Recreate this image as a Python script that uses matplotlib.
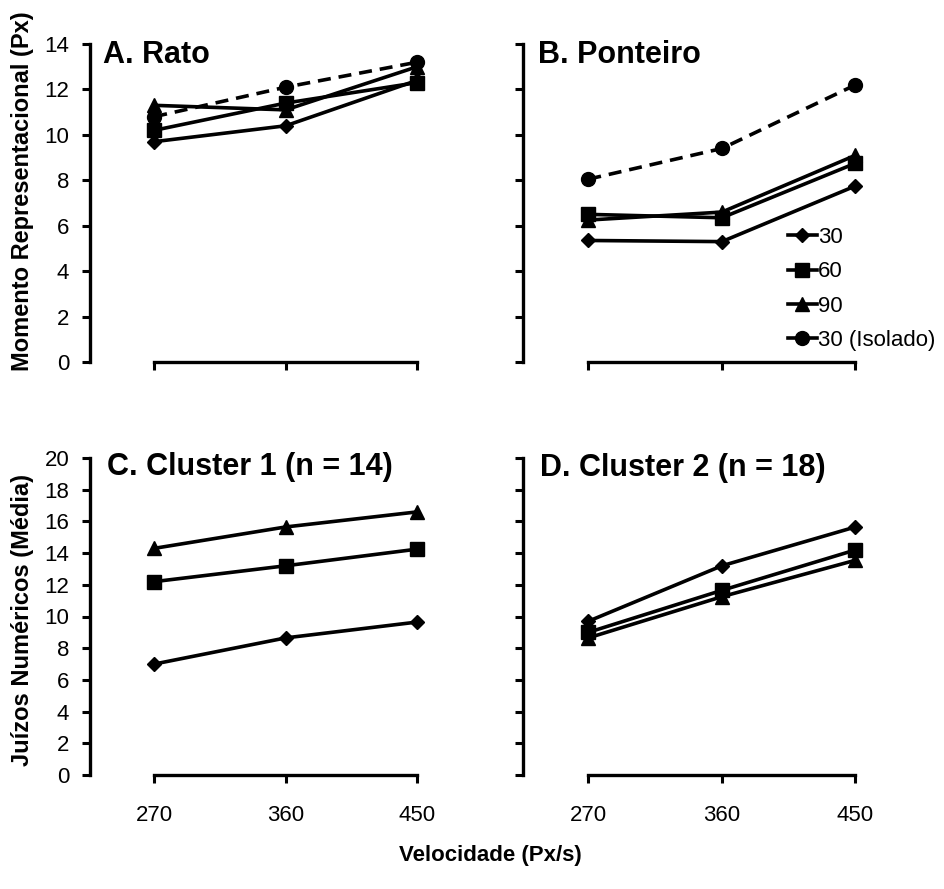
import matplotlib
matplotlib.use("Agg")
import matplotlib.pyplot as plt

plt.rcParams['font.family'] = ['Liberation Sans', 'DejaVu Sans']

# region DATA
velocidades = [270, 360, 450]
series_labels = ["30", "60", "90", "30 (Isolado)"]

rato_30 = [9.7, 10.4, 12.4]
rato_60 = [10.2, 11.4, 12.3]
rato_90 = [11.3, 11.1, 13.0]
rato_30_iso = [10.8, 12.1, 13.2]

ponteiro_30 = [5.35, 5.3, 7.75]
ponteiro_60 = [6.5, 6.35, 8.75]
ponteiro_90 = [6.25, 6.6, 9.1]
ponteiro_30_iso = [8.05, 9.4, 12.2]

cluster1_30 = [7.0, 8.65, 9.65]
cluster1_60 = [12.2, 13.2, 14.25]
cluster1_90 = [14.3, 15.65, 16.6]

cluster2_30 = [9.7, 13.2, 15.65]
cluster2_60 = [9.0, 11.65, 14.2]
cluster2_90 = [8.65, 11.25, 13.55]
# endregion

W, H = 945, 889
fig = plt.figure(figsize=(W / 100, H / 100), dpi=100)


def px_axes(x0, ytop, x1, ybot):
    return fig.add_axes([x0 / W, 1 - ybot / H, (x1 - x0) / W, (ybot - ytop) / H])


styles = [
    dict(marker='D', ms=7.5, linestyle='-'),
    dict(marker='s', ms=9.5, linestyle='-'),
    dict(marker='^', ms=10.5, linestyle='-'),
    dict(marker='o', ms=10, linestyle=(0, (3.6, 2.2))),
]


def draw_panel(ax, series, ymax, ystep, show_ylabels, show_xlabels):
    for vals, st, lab in zip(series, styles, series_labels):
        ax.plot(velocidades, vals, color='black', lw=2.6, mfc='black', mec='black',
                label=lab, **st)
    ax.set_xlim(226, 480)
    ax.set_ylim(0, ymax)
    ax.set_yticks(range(0, ymax + 1, ystep))
    ax.set_xticks(velocidades)
    for s in ['top', 'right']:
        ax.spines[s].set_visible(False)
    ax.spines['left'].set_linewidth(2.4)
    ax.spines['bottom'].set_linewidth(2.4)
    ax.spines['bottom'].set_bounds(270, 450)
    ax.tick_params(axis='y', direction='out', length=6, width=2.2, pad=9,
                   labelsize=16, labelleft=show_ylabels)
    ax.tick_params(axis='x', direction='out', length=5.5, width=2.2, pad=16,
                   labelsize=16, labelbottom=show_xlabels)
    ax.set_facecolor('none')


axA = px_axes(90, 44, 461, 362)
draw_panel(axA, [rato_30, rato_60, rato_90, rato_30_iso], 14, 2, True, False)

axB = px_axes(523, 44, 900, 362)
draw_panel(axB, [ponteiro_30, ponteiro_60, ponteiro_90, ponteiro_30_iso], 14, 2, False, False)

axC = px_axes(90, 458, 461, 775)
draw_panel(axC, [cluster1_30, cluster1_60, cluster1_90], 20, 2, True, True)

axD = px_axes(523, 458, 900, 775)
draw_panel(axD, [cluster2_30, cluster2_60, cluster2_90], 20, 2, False, True)

# panel titles
fig.text(103 / W, 1 - 63 / H, "A. Rato", fontsize=22, fontweight='bold', va='baseline')
fig.text(538 / W, 1 - 63 / H, "B. Ponteiro", fontsize=22, fontweight='bold', va='baseline')
fig.text(107 / W, 1 - 475 / H, "C. Cluster 1 (n = 14)", fontsize=22, fontweight='bold', va='baseline')
fig.text(540 / W, 1 - 476 / H, "D. Cluster 2 (n = 18)", fontsize=22, fontweight='bold', va='baseline')

# axis labels
fig.text(23 / W, 1 - 191 / H, "Momento Representacional (Px)", fontsize=17, fontweight='bold',
         rotation=90, ha='center', va='center')
fig.text(23 / W, 1 - 620 / H, "Juízos Numéricos (Média)", fontsize=17, fontweight='bold',
         rotation=90, ha='center', va='center')
fig.text(490 / W, 1 - 856 / H, "Velocidade (Px/s)", fontsize=16, fontweight='bold',
         ha='center', va='center')

# legend
leg = axB.legend(loc='upper left', bbox_to_anchor=(788 / W, 1 - 227 / H), bbox_transform=fig.transFigure,
                 frameon=False, fontsize=16, handlelength=1.3, handletextpad=0.05, borderpad=0,
                 borderaxespad=0, labelspacing=0.6, markerscale=1.0)
for ln in leg.get_lines():
    ln.set_linestyle('-')

plt.savefig("out.png", dpi=100)
